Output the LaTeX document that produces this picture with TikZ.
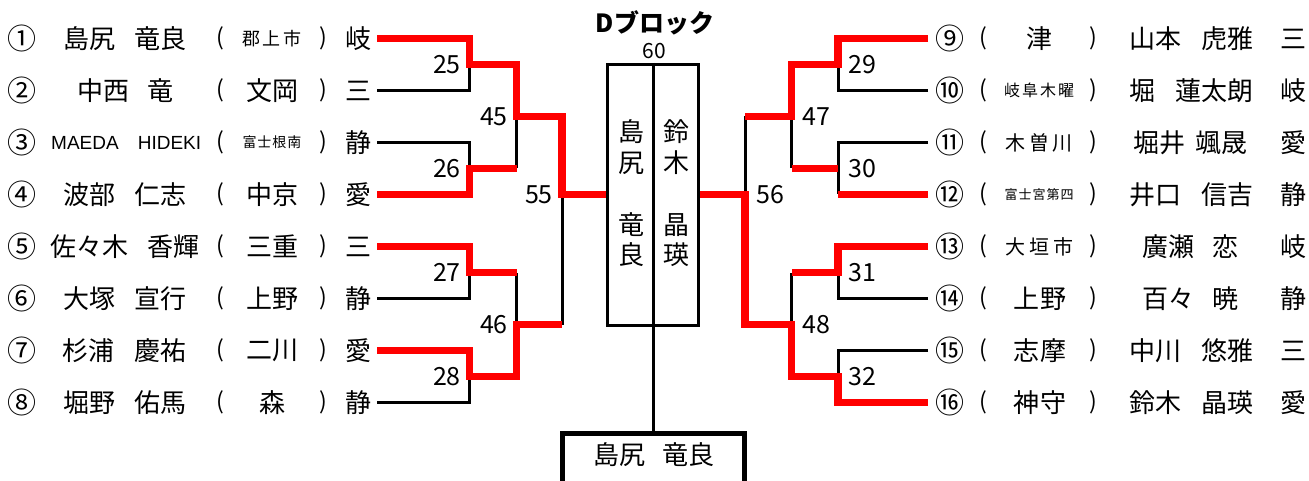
\documentclass[tikz,border=0pt]{standalone}
\usepackage{fontspec}
\setmainfont{Noto Sans CJK JP}
\newfontfamily\latf{Liberation Sans}
\newcommand\fz[1]{\fontsize{#1}{#1}\selectfont}
\newcommand\gp[1]{\hspace{#1pt}}
\begin{document}
\begin{tikzpicture}[x=1pt,y=-1pt,
  bl/.style={line width=3pt},
  rd/.style={line width=7.5pt,red},
  tx/.style={inner sep=0pt,font=\fz{26}},
  cn/.style={inner sep=0pt,font=\fz{29}},
  sm/.style={inner sep=0pt},
  num/.style={inner sep=0pt,font=\fz{25}},
  par/.style={inner sep=0pt,font=\fz{23}},
]
\useasboundingbox (0,0) rectangle (1309,481);

% ---------- row texts ----------
\foreach \i/\c in {1/①,2/②,3/③,4/④,5/⑤,6/⑥,7/⑦,8/⑧}{
  \node[cn] (c\i) at (22.5,{38.5+52*(\i-1)}) {\c};
  \node[par] (ol\i) at (220,{38.5+52*(\i-1)}) {(};
  \node[par] (cl\i) at (323,{38.5+52*(\i-1)}) {)};
}
\foreach \i/\c in {9/⑨,10/⑩,11/⑪,12/⑫,13/⑬,14/⑭,15/⑮,16/⑯}{
  \node[cn] (c\i) at (950,{38.5+52*(\i-9)}) {\c};
  \node[par] (ol\i) at (983,{38.5+52*(\i-9)}) {(};
  \node[par] (cl\i) at (1093,{38.5+52*(\i-9)}) {)};
}

% names left
\node[tx] (n1) at (125,38.5) {島尻\gp{20}竜良};
\node[tx] (n2) at (125.5,90.5) {中西\gp{18}竜};
\node[sm,font=\latf\fz{19}] (n3a) at (85,142.5) {MAEDA};
\node[sm,font=\latf\fz{19}] (n3b) at (169.5,142.5) {HIDEKI};
\node[tx] (n4) at (125,194.5) {波部\gp{20}仁志};
\node[tx] (n5) at (125,246.5) {佐々木\gp{20}香輝};
\node[tx] (n6) at (125,298.5) {大塚\gp{20}宣行};
\node[tx] (n7) at (124.5,350.5) {杉浦\gp{20}慶祐};
\node[tx] (n8) at (125,402.5) {堀野\gp{20}佑馬};

% schools left
\node[sm] (s1) at (272,38.5) {\fz{18}郡\gp{3}上\gp{3}市};
\node[tx] (s2) at (272,90.5) {文岡};
\node[sm] (s3) at (272,142.5) {\fz{14}富\gp{1}士\gp{1}根\gp{1}南};
\node[tx] (s4) at (272,194.5) {中京};
\node[tx] (s5) at (272,246.5) {三重};
\node[tx] (s6) at (272,298.5) {上野};
\node[tx] (s7) at (272,350.5) {二川};
\node[tx] (s8) at (272,402.5) {森};

% prefs left
\node[tx] (p1) at (358,38.5) {岐};
\node[tx] (p2) at (358,90.5) {三};
\node[tx] (p3) at (358,142.5) {静};
\node[tx] (p4) at (358,194.5) {愛};
\node[tx] (p5) at (358,246.5) {三};
\node[tx] (p6) at (358,298.5) {静};
\node[tx] (p7) at (358,350.5) {愛};
\node[tx] (p8) at (358,402.5) {静};

% schools right
\node[tx] (s9) at (1039,38.5) {津};
\node[sm] (s10) at (1039,90.5) {\fz{16}岐\gp{2}阜\gp{2}木\gp{2}曜};
\node[sm] (s11) at (1039,142.5) {\fz{20}木\gp{3.5}曽\gp{3.5}川};
\node[sm] (s12) at (1039,194.5) {\fz{13}富\gp{1}士\gp{1}宮\gp{1}第\gp{1}四};
\node[sm] (s13) at (1039,246.5) {\fz{20}大\gp{4}垣\gp{4}市};
\node[tx] (s14) at (1040,298.5) {上\gp{2}野};
\node[tx] (s15) at (1040,350.5) {志\gp{2}摩};
\node[tx] (s16) at (1040,402.5) {神\gp{2}守};

% names right
\node[tx] (n9) at (1191,38.5) {山本\gp{20}虎雅};
\node[tx] (n10) at (1191,90.5) {堀\gp{20}蓮太朗};
\node[tx] (n11) at (1190.5,142.5) {堀井\gp{10}颯晟};
\node[tx] (n12) at (1191,194.5) {井口\gp{20}信吉};
\node[tx] (n13) at (1190,246.5) {廣瀬\gp{18}恋};
\node[tx] (n14) at (1190,298.5) {百々\gp{18}暁};
\node[tx] (n15) at (1191,350.5) {中川\gp{20}悠雅};
\node[tx] (n16) at (1191,402.5) {鈴木\gp{20}晶瑛};

% prefs right
\node[tx] (p9) at (1293,38.5) {三};
\node[tx] (p10) at (1293,90.5) {岐};
\node[tx] (p11) at (1293,142.5) {愛};
\node[tx] (p12) at (1293,194.5) {静};
\node[tx] (p13) at (1293,246.5) {岐};
\node[tx] (p14) at (1293,298.5) {静};
\node[tx] (p15) at (1293,350.5) {三};
\node[tx] (p16) at (1293,402.5) {愛};

% ---------- centre ----------
\node[inner sep=0pt,font=\fz{25}\bfseries] (title) at (655,23) {Dブロック};
\node[inner sep=0pt,font=\fz{21}] (n60) at (654,51) {60};
\node[draw,line width=3pt,minimum width=91pt,minimum height=261pt,inner sep=0pt] (mbox) at (653,195) {};
\node[tx] (b1) at (631,132) {島};
\node[tx] (b2) at (631,163) {尻};
\node[tx] (b3) at (631,225) {竜};
\node[tx] (b4) at (631,255) {良};
\node[tx] (b5) at (676,132) {鈴};
\node[tx] (b6) at (676,163) {木};
\node[tx] (b7) at (676,225) {晶};
\node[tx] (b8) at (676,255) {瑛};
\node[draw,line width=5pt,minimum width=182pt,minimum height=80pt,inner sep=0pt,anchor=north] (wbox) at (653,430.5) {};
\node[tx] (wname) at (654,455) {島尻\gp{18}竜良};

% ---------- bracket coordinates ----------
\foreach \i in {1,...,8} \coordinate (Ls\i) at (377,{38.5+52*(\i-1)});
\foreach \i in {9,...,16} \coordinate (Rs\i) at (928,{38.5+52*(\i-9)});
\coordinate (m25) at (469.5,64.5);
\coordinate (m26) at (469.5,168.5);
\coordinate (m27) at (469.5,272.5);
\coordinate (m28) at (469.5,376.5);
\coordinate (m45) at (516.5,116.5);
\coordinate (m46) at (516.5,324.5);
\coordinate (m55) at (562,194.5);
\coordinate (m29) at (838,64.5);
\coordinate (m30) at (838,168.5);
\coordinate (m31) at (838,272.5);
\coordinate (m32) at (838,376.5);
\coordinate (m47) at (791.5,116.5);
\coordinate (m48) at (791.5,324.5);
\coordinate (m56) at (745,194.5);

% match labels
\node[num,anchor=east] (l25) at (461,64.5) {25};
\node[num,anchor=east] (l26) at (461,168.5) {26};
\node[num,anchor=east] (l27) at (461,272.5) {27};
\node[num,anchor=east] (l28) at (461,376.5) {28};
\node[num,anchor=east] (l45) at (508,116.5) {45};
\node[num,anchor=east] (l46) at (508,324.5) {46};
\node[num,anchor=east] (l55) at (553,194.5) {55};
\node[num,anchor=west] (l29) at (848,64.5) {29};
\node[num,anchor=west] (l30) at (848,168.5) {30};
\node[num,anchor=west] (l31) at (848,272.5) {31};
\node[num,anchor=west] (l32) at (848,376.5) {32};
\node[num,anchor=west] (l47) at (802,116.5) {47};
\node[num,anchor=west] (l48) at (802,324.5) {48};
\node[num,anchor=west] (l56) at (756,194.5) {56};

% ---------- black lines ----------
\draw[bl] (Ls2) -| (m25);
\draw[bl] (Ls3) -| (m26);
\draw[bl] (Ls6) -| (m27);
\draw[bl] (Ls8) -| (m28);
\draw[bl] (m45) -- (m45 |- m26);
\draw[bl] (m46) -- (m46 |- m27);
\draw[bl] (m55) -- (m55 |- m46);
\draw[bl] (Rs10) -| (m29);
\draw[bl] (Rs11) -| (m30) -- (m30 |- Rs12);
\draw[bl] (Rs14) -| (m31);
\draw[bl] (Rs15) -| (m32);
\draw[bl] (m47) -- (m47 |- m30);
\draw[bl] (m48) -- (m48 |- m31);
\draw[bl] (m56) -- (m56 |- m47);
\draw[bl] (mbox.north) -- (mbox.south) -- (wbox.north);

% ---------- red lines ----------
\draw[rd] (Ls1) -| (m25) -| (m45) -| (m55) -- (m55 -| mbox.west);
\draw[rd] (Ls4) -| (m26) -- (m26 -| m45);
\draw[rd] (Ls5) -| (m27) -- (m27 -| m46);
\draw[rd] (Ls7) -| (m28) -| (m46) -- (m46 -| m55);
\draw[rd] (Rs9) -| (m29) -| (m47) -- (m47 -| m56);
\draw[rd] (Rs12) -- (Rs12 -| m30);
\draw[rd] (m30) -- (m30 -| m47);
\draw[rd] (Rs13) -| (m31) -- (m31 -| m48);
\draw[rd] (m56 -| mbox.east) -- (m56) |- (m48) |- (m32) |- (Rs16);
\end{tikzpicture}
\end{document}
